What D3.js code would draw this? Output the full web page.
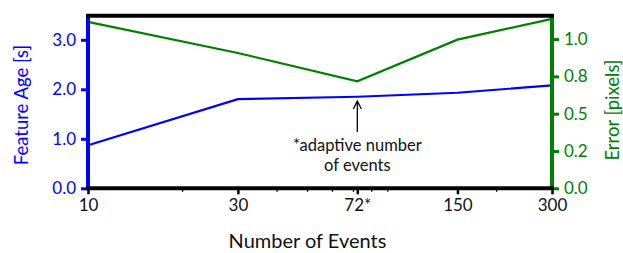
<!DOCTYPE html>
<html>
<head>
<meta charset="utf-8">
<script src="https://cdn.jsdelivr.net/npm/d3@7"></script>
<style>
  html, body { margin: 0; padding: 0; background: #fff; }
  svg { display: block; }
  text { font-family: "Lato", "DejaVu Sans", sans-serif; }
</style>
</head>
<body>
<svg id="chart" width="623" height="253"></svg>
<script>
// ---- data ----
const events = [10, 30, 72, 150, 300];
const eventLabels = ["10", "30", "72*", "150", "300"];
const featureAge = [0.87, 1.80, 1.85, 1.93, 2.08];
const errorPixels = [1.115, 0.907, 0.717, 0.996, 1.135];
const minorTicks = [20, 40, 50, 60, 70, 80, 90, 200];
const leftTicks = [0, 1, 2, 3];
const rightTicks = [0, 0.25, 0.5, 0.75, 1.0];
const rightTickLabels = ["0.0", "0.2", "0.5", "0.8", "1.0"];
const annotationLines = ["*adaptive number", "of events"];

// ---- layout ----
const L = 88, R = 552, T = 15.8, B = 188.3;
const svg = d3.select("#chart");
const x = d3.scaleLog().domain([10, 300]).range([L, R]);
const yL = d3.scaleLinear().domain([0, 3.485]).range([B, T]);
const yR = d3.scaleLinear().domain([0, 1.156]).range([B, T]);

const blue = "#0000ff", green = "#008000";

// lines
const lineL = d3.line().x((d, i) => x(events[i])).y(d => yL(d));
const lineR = d3.line().x((d, i) => x(events[i])).y(d => yR(d));
svg.append("path").attr("d", lineL(featureAge)).attr("fill", "none")
  .attr("stroke", blue).attr("stroke-width", 2.2);
svg.append("path").attr("d", lineR(errorPixels)).attr("fill", "none")
  .attr("stroke", green).attr("stroke-width", 2.2);

// annotation
const ax = x(72);
svg.append("line").attr("x1", ax).attr("x2", ax).attr("y1", 132).attr("y2", 102)
  .attr("stroke", "#000").attr("stroke-width", 1.3);
svg.append("path")
  .attr("d", `M${ax - 4},${109} L${ax},${101} L${ax + 4},${109}`)
  .attr("fill", "none").attr("stroke", "#000").attr("stroke-width", 1.3);
svg.selectAll("text.ann").data(annotationLines).join("text").attr("class", "ann")
  .attr("x", ax).attr("y", (d, i) => 151 + i * 20).attr("text-anchor", "middle")
  .attr("font-size", 16.5).attr("fill", "#111").text(d => d);

// bottom axis
const xAxis = d3.axisBottom(x).tickValues(events).tickFormat((d, i) => eventLabels[i])
  .tickSize(6).tickPadding(5);
const gx = svg.append("g").attr("transform", `translate(0,${B})`).call(xAxis);
gx.select(".domain").remove();
gx.selectAll(".tick line").attr("stroke", "#000").attr("stroke-width", 2.5);
gx.selectAll(".tick text").attr("font-size", 17).attr("fill", "#111")
  .style("font-family", "Lato, sans-serif");
svg.append("g").attr("transform", `translate(0,${B})`)
  .selectAll("line").data(minorTicks).join("line")
  .attr("x1", d => x(d)).attr("x2", d => x(d)).attr("y1", 0).attr("y2", 3.5)
  .attr("stroke", "#000").attr("stroke-width", 1.3);

// left axis
const yAxisL = d3.axisLeft(yL).tickValues(leftTicks).tickFormat(d3.format(".1f"))
  .tickSize(7).tickPadding(5);
const gl = svg.append("g").attr("transform", `translate(${L},0)`).call(yAxisL);
gl.select(".domain").remove();
gl.selectAll(".tick line").attr("stroke", blue).attr("stroke-width", 3);
gl.selectAll(".tick text").attr("font-size", 17).attr("fill", blue)
  .style("font-family", "Lato, sans-serif");

// right axis
const yAxisR = d3.axisRight(yR).tickValues(rightTicks).tickFormat((d, i) => rightTickLabels[i])
  .tickSize(7).tickPadding(5);
const gr = svg.append("g").attr("transform", `translate(${R},0)`).call(yAxisR);
gr.select(".domain").remove();
gr.selectAll(".tick line").attr("stroke", green).attr("stroke-width", 3);
gr.selectAll(".tick text").attr("font-size", 17).attr("fill", green)
  .style("font-family", "Lato, sans-serif");

// spines
const sw = 4;
svg.append("line").attr("x1", L).attr("x2", L).attr("y1", T).attr("y2", B)
  .attr("stroke", blue).attr("stroke-width", sw);
svg.append("line").attr("x1", R).attr("x2", R).attr("y1", T).attr("y2", B)
  .attr("stroke", green).attr("stroke-width", sw);
svg.append("line").attr("x1", L - sw / 2).attr("x2", R + sw / 2).attr("y1", T).attr("y2", T)
  .attr("stroke", "#000").attr("stroke-width", sw);
svg.append("line").attr("x1", L - sw / 2).attr("x2", R + sw / 2).attr("y1", B).attr("y2", B)
  .attr("stroke", "#000").attr("stroke-width", sw);

// axis labels
svg.append("text").attr("x", 307.5).attr("y", 248).attr("text-anchor", "middle")
  .attr("font-size", 20).attr("fill", "#111").text("Number of Events");
svg.append("text").attr("transform", `translate(28,${(T + B) / 2 + 3}) rotate(-90)`)
  .attr("text-anchor", "middle").attr("font-size", 18.5).attr("fill", blue).text("Feature Age [s]");
svg.append("text").attr("transform", `translate(619,${(T + B) / 2 + 8}) rotate(-90)`)
  .attr("text-anchor", "middle").attr("font-size", 18.5).attr("fill", green).text("Error [pixels]");
</script>
</body>
</html>
